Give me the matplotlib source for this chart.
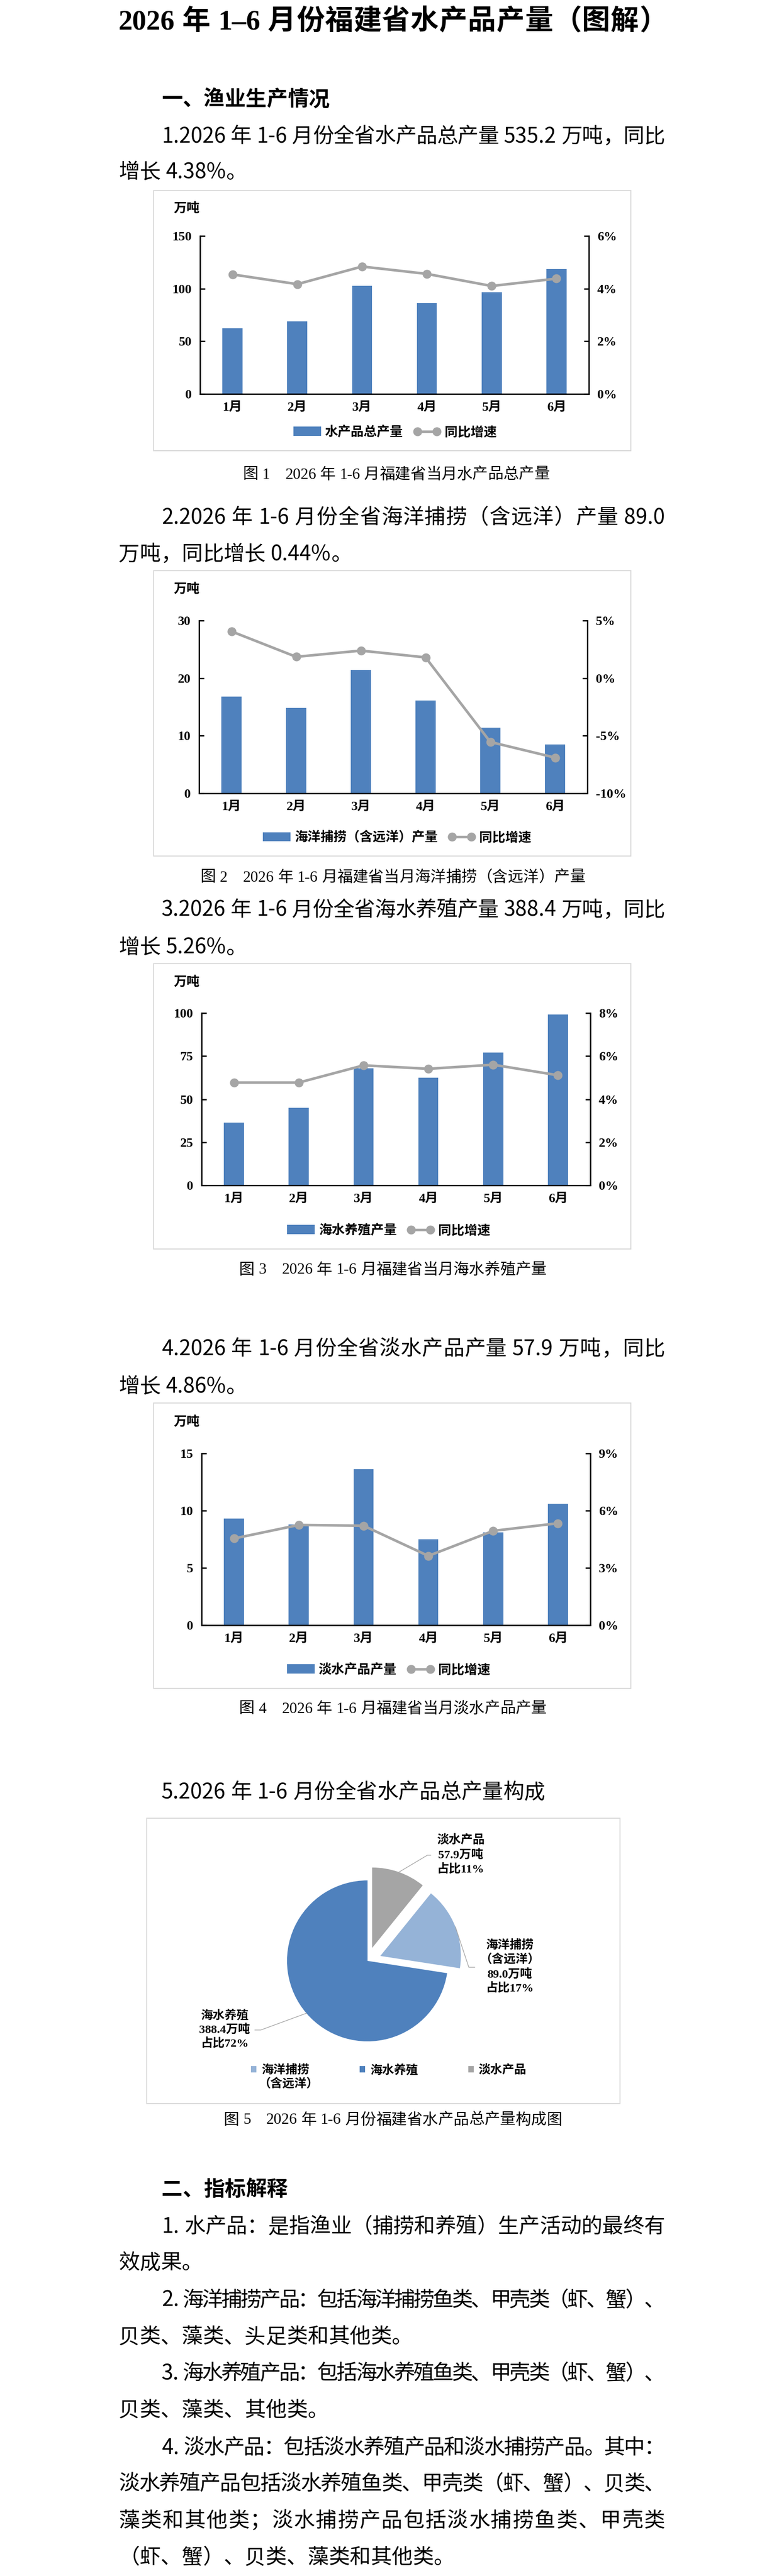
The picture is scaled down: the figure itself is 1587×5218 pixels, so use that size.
"""2026年1-6月份福建省水产品产量（图解）: page of text plus four bar/line combo charts and a pie."""
import matplotlib

matplotlib.use("Agg")
import matplotlib.pyplot as plt  # noqa: E402
import numpy as np  # noqa: E402
from matplotlib.patches import Rectangle  # noqa: E402
from matplotlib.ticker import FuncFormatter, MultipleLocator  # noqa: E402

W, H, DPI = 1587, 5218, 100

CHART_FONT = ["Liberation Serif", "Noto Sans CJK SC", "DejaVu Sans"]
BODY_FONT = ["Noto Sans CJK SC", "DejaVu Sans"]
plt.rcParams["font.family"] = CHART_FONT
plt.rcParams["axes.unicode_minus"] = False

BLUE = "#4F81BD"
LIGHT_BLUE = "#95B3D7"
GRAY = "#A5A5A5"

# ---- data ----
months = ["1月", "2月", "3月", "4月", "5月", "6月"]

total_output = [62.5, 68.8, 102.8, 86.2, 96.4, 118.5]
total_yoy = [4.54, 4.17, 4.84, 4.56, 4.10, 4.38]

marine_catch = [16.8, 14.8, 21.4, 16.1, 11.4, 8.5]
marine_catch_yoy = [4.06, 1.85, 2.39, 1.80, -5.54, -6.90]

mariculture = [36.4, 45.1, 68.0, 62.6, 77.2, 99.1]
mariculture_yoy = [4.77, 4.77, 5.57, 5.41, 5.60, 5.11]

freshwater = [9.3, 8.8, 13.6, 7.5, 8.1, 10.6]
freshwater_yoy = [4.54, 5.25, 5.21, 3.63, 4.94, 5.34]

# pie, clockwise from 12 o'clock
pie_names = ["淡水产品", "海洋捕捞\n（含远洋）", "海水养殖"]
pie_values = [57.9, 89.0, 388.4]
pie_shares = [11, 17, 72]
pie_colors = [GRAY, LIGHT_BLUE, BLUE]
pie_explode = [0.17, 0.17, 0.0]
legend_order = [1, 2, 0]

title = "2026年1–6月份福建省水产品产量（图解）"

# (y, x, text, bold, justify)
body_lines = [
    (201, 327, "一、渔业生产情况", True, False),
    (277, 327, "1.2026年1-6月份全省水产品总产量535.2万吨，同比", False, True),
    (349.5, 240, "增长4.38%。", False, False),
    (1049, 327, "2.2026年1-6月份全省海洋捕捞（含远洋）产量89.0", False, True),
    (1123.5, 240, "万吨，同比增长0.44%。", False, False),
    (1844, 327, "3.2026年1-6月份全省海水养殖产量388.4万吨，同比", False, True),
    (1920, 240, "增长5.26%。", False, False),
    (2733, 327, "4.2026年1-6月份全省淡水产品产量57.9万吨，同比", False, True),
    (2809.5, 240, "增长4.86%。", False, False),
    (3631, 327, "5.2026年1-6月份全省水产品总产量构成", False, False),
    (4434.7, 327, "二、指标解释", True, False),
    (4510.8, 327, "1.水产品：是指渔业（捕捞和养殖）生产活动的最终有", False, True),
    (4584, 240, "效成果。", False, False),
    (4660, 327, "2.海洋捕捞产品：包括海洋捕捞鱼类、甲壳类（虾、蟹）、", False, True),
    (4734.4, 240, "贝类、藻类、头足类和其他类。", False, False),
    (4808.2, 327, "3.海水养殖产品：包括海水养殖鱼类、甲壳类（虾、蟹）、", False, True),
    (4882.5, 240, "贝类、藻类、其他类。", False, False),
    (4958.7, 327, "4.淡水产品：包括淡水养殖产品和淡水捕捞产品。其中：", False, True),
    (5031.9, 240, "淡水养殖产品包括淡水养殖鱼类、甲壳类（虾、蟹）、贝类、", False, True),
    (5106.8, 240, "藻类和其他类；淡水捕捞产品包括淡水捕捞鱼类、甲壳类", False, True),
    (5181, 240, "（虾、蟹）、贝类、藻类和其他类。", False, False),
]

captions = [
    (802, 962, "图1  2026年1-6月福建省当月水产品总产量"),
    (795, 1778, "图2  2026年1-6月福建省当月海洋捕捞（含远洋）产量"),
    (795, 2573, "图3  2026年1-6月福建省当月海水养殖产量"),
    (795, 3462, "图4  2026年1-6月福建省当月淡水产品产量"),
    (795, 4295, "图5  2026年1-6月份福建省水产品总产量构成图"),
]

TEXT_RIGHT = 1346
BODY_SIZE = 30.6
PUNCT = "，。、：；（）"

fig = plt.figure(figsize=(W / DPI, H / DPI), dpi=DPI)
page = fig.add_axes([0, 0, 1, 1])
page.set_xlim(0, W)
page.set_ylim(H, 0)
page.axis("off")
renderer = fig.canvas.get_renderer()


def px_rect(left, right, top, bottom):
    return [left / W, 1 - bottom / H, (right - left) / W, (bottom - top) / H]


def is_cjk(ch):
    return ord(ch) >= 0x2E80


def split_tokens(s):
    toks, buf = [], ""
    for ch in s:
        if ch == " " or is_cjk(ch):
            if buf:
                toks.append(buf)
                buf = ""
            toks.append(ch)
        else:
            buf += ch
    if buf:
        toks.append(buf)
    return toks


def draw_line(x, y, s, size, family, weight="normal", x_end=None, ha="left"):
    """Lay a line out token by token; optionally justify it to x_end."""
    em = size * DPI / 72
    words, gaps, pending = [], [], 0.0
    for t in split_tokens(s):
        if t == " ":
            pending += 0.5 * em
            continue
        if words:
            a, b = words[-1][-1], t[0]
            boundary = is_cjk(a) != is_cjk(b) and a not in PUNCT and b not in PUNCT
            gaps.append(pending + (0.25 * em if boundary else 0.0))
        pending = 0.0
        words.append(t)
    objs = [page.text(0, y, w, fontsize=size, family=family, fontweight=weight,
                      va="center", ha="left") for w in words]
    widths = [o.get_window_extent(renderer).width for o in objs]
    total = sum(widths) + sum(gaps)
    if x_end is not None and gaps:
        extra = (x_end - x - total) / len(gaps)
        gaps = [g + extra for g in gaps]
    elif ha == "center":
        x = x - total / 2
    pos = x
    for i, o in enumerate(objs):
        o.set_x(pos)
        pos += widths[i] + (gaps[i] if i < len(gaps) else 0.0)


# ---- page text ----
draw_line(240, 45, title, 41, CHART_FONT, weight="bold", x_end=1351)
for y, x, s, bold, justify in body_lines:
    draw_line(x, y, s, BODY_SIZE, BODY_FONT, weight="bold" if bold else "normal",
              x_end=TEXT_RIGHT if justify else None)
for cx, y, s in captions:
    draw_line(cx, y, s, 22.6, CHART_FONT, ha="center")

# chart frames
for left, right, top, bottom in [(311, 1277, 386, 913), (311, 1277, 1156, 1734),
                                 (311, 1277, 1952, 2530), (311, 1277, 2842, 3420),
                                 (297, 1255, 3683, 4261)]:
    page.add_patch(Rectangle((left, top), right - left, bottom - top, fill=False,
                             ec="#D9D9D9", lw=1.5))


def pct_fmt(v, _pos):
    return f"{int(round(v))}%"


def draw_combo(box, unit_y, values, yoy, bar_name, ymax, ystep, rmin, rmax, rstep, legend_xy):
    left, right, top, bottom = box
    ax = fig.add_axes(px_rect(left, right, top, bottom))
    ax.patch.set_alpha(0)
    x = np.arange(len(months))
    bars = ax.bar(x, values, width=0.31, color=BLUE, zorder=2)
    ax.set_xlim(-0.5, len(months) - 0.5)
    ax.set_ylim(0, ymax)
    ax.yaxis.set_major_locator(MultipleLocator(ystep))
    ax.set_xticks(x, months)

    ax2 = ax.twinx()
    line, = ax2.plot(x, yoy, color=GRAY, lw=3.8, marker="o", ms=12)
    ax2.set_ylim(rmin, rmax)
    ax2.yaxis.set_major_locator(MultipleLocator(rstep))
    ax2.yaxis.set_major_formatter(FuncFormatter(pct_fmt))

    for a in (ax, ax2):
        a.spines["top"].set_visible(False)
        for side in ("left", "right", "bottom"):
            a.spines[side].set_linewidth(2)
    ax.spines["right"].set_visible(False)
    ax2.spines["left"].set_visible(False)
    ax2.spines["bottom"].set_visible(False)
    ax.tick_params(axis="y", direction="in", length=7.5, width=2, pad=12, labelsize=19)
    ax.tick_params(axis="x", length=0, pad=11, labelsize=19)
    ax2.tick_params(axis="y", direction="in", length=7.5, width=2, pad=12, labelsize=19)
    for lab in ax.get_xticklabels() + ax.get_yticklabels() + ax2.get_yticklabels():
        lab.set_fontweight("bold")

    page.text(351, unit_y, "万吨", fontsize=19, fontweight="bold", va="center", ha="left")
    ax2.legend([bars, line], [bar_name, "同比增速"], loc="center",
               bbox_to_anchor=(legend_xy[0] / W, 1 - legend_xy[1] / H),
               bbox_transform=fig.transFigure, ncol=2, frameon=False,
               prop=dict(family=CHART_FONT, weight="bold", size=19),
               handlelength=2.1, handletextpad=0.3, columnspacing=0.8, numpoints=2)


draw_combo((405, 1192, 478, 798), 422, total_output, total_yoy, "水产品总产量",
           150, 50, 0, 6, 2, (800, 875))
draw_combo((403, 1189, 1257, 1607), 1193.5, marine_catch, marine_catch_yoy,
           "海洋捕捞（含远洋）产量", 30, 10, -10, 5, 5, (804, 1696))
draw_combo((408, 1195, 2052, 2401), 1989, mariculture, mariculture_yoy, "海水养殖产量",
           100, 25, 0, 8, 2, (787, 2492))
draw_combo((408, 1195, 2944, 3292), 2880, freshwater, freshwater_yoy, "淡水产品产量",
           15, 5, 0, 9, 3, (787, 3382))

# ---- pie ----
PIE_CX, PIE_CY, R, S = 744, 3972, 163, 330
axp = fig.add_axes(px_rect(PIE_CX - S, PIE_CX + S, PIE_CY - S, PIE_CY + S))
wedges, _ = axp.pie(pie_values, colors=pie_colors, explode=pie_explode, startangle=90,
                    counterclock=False, radius=1)
axp.set_xlim(-S / R, S / R)
axp.set_ylim(-S / R, S / R)
axp.axis("off")


def pu(xp, yp):
    return (xp - PIE_CX) / R, (PIE_CY - yp) / R


# label layout per slice: (elbow px, end px, text centre x, text centre y)
label_layout = [
    ((865, 3758), (872, 3758), 933, 3757.8),
    ((949, 3985), (961, 3985), 1032, 3984.5),
    ((528, 4112), (516, 4112), 455, 4111.4),
]
for w, name, val, share, (elbow, end, tx, ty) in zip(wedges, pie_names, pie_values,
                                                     pie_shares, label_layout):
    th = np.deg2rad((w.theta1 + w.theta2) / 2)
    cx, cy = w.center
    sx, sy = cx + w.r * np.cos(th), cy + w.r * np.sin(th)
    e1, e2 = pu(*elbow), pu(*end)
    axp.plot([sx, e1[0], e2[0]], [sy, e1[1], e2[1]], color="#A6A6A6", lw=1, clip_on=False)
    lines = name.split("\n") + [f"{val:.1f}万吨", f"占比{share}%"]
    n = len(lines)
    for i, s in enumerate(lines):
        page.text(tx, ty + (i - (n - 1) / 2) * 29, s, fontsize=17.5, fontweight="bold",
                  ha="center", va="center")

legend_labels = [pie_names[i].split("\n")[0] for i in legend_order]
axp.legend([wedges[i] for i in legend_order], legend_labels, loc="center",
           bbox_to_anchor=(787 / W, 1 - 4193.5 / H), bbox_transform=fig.transFigure,
           ncol=3, frameon=False, prop=dict(family=CHART_FONT, weight="bold", size=17.5),
           handlelength=0.45, handleheight=0.45, handletextpad=0.4, columnspacing=4.2)
page.text(584, 4222, pie_names[legend_order[0]].split("\n")[1], fontsize=17.5,
          fontweight="bold", ha="center", va="center")

fig.savefig("out.png", dpi=DPI)
